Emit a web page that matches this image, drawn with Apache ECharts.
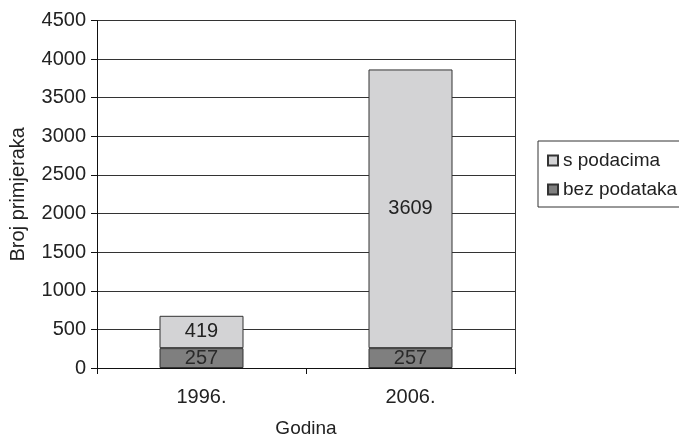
<!DOCTYPE html>
<html>
<head>
<meta charset="utf-8">
<script src="https://cdn.jsdelivr.net/npm/echarts@6/dist/echarts.min.js"></script>
<style>
  html, body { margin: 0; padding: 0; background: #fff; }
  #chart { width: 679px; height: 443px; }
</style>
</head>
<body>
<div id="chart"></div>
<script>
// Broj primjeraka po godinama, s podacima i bez podataka
const years = ['1996.', '2006.'];
const bezPodataka = [257, 257];
const sPodacima = [419, 3609];
const yRange = [0, 4500];
const yStep = 500;

const FONT = '"Liberation Sans", Arial, sans-serif';
const TXT = '#222';
const FS = 20;

const chart = echarts.init(document.getElementById('chart'), null, { renderer: 'canvas' });

chart.setOption({
  animation: false,
  backgroundColor: '#fff',
  textStyle: { fontFamily: FONT, color: TXT },
  grid: { left: 97, right: 164, top: 20.5, bottom: 71, containLabel: false },
  legend: {
    orient: 'vertical',
    left: 538,
    top: 141,
    padding: [10, 40, 8, 9],
    itemGap: 10,
    itemWidth: 10,
    itemHeight: 10,
    icon: 'rect',
    borderColor: '#333',
    borderWidth: 1,
    data: ['s podacima', 'bez podataka'],
    textStyle: { fontFamily: FONT, fontSize: 19, color: TXT, padding: [0, 0, 0, 0] }
  },
  xAxis: {
    type: 'category',
    data: years,
    boundaryGap: true,
    name: 'Godina',
    nameLocation: 'middle',
    nameGap: 51,
    nameTextStyle: { fontFamily: FONT, fontSize: 19, color: TXT },
    axisLine: { lineStyle: { color: '#111', width: 1 } },
    axisTick: { show: true, length: 6, alignWithLabel: false, lineStyle: { color: '#111' } },
    axisLabel: { fontFamily: FONT, fontSize: FS, color: TXT, margin: 19 },
    splitLine: { show: false }
  },
  yAxis: [
    {
      type: 'value',
      min: yRange[0],
      max: yRange[1],
      interval: yStep,
      name: 'Broj primjeraka',
      nameLocation: 'middle',
      nameGap: 69,
      nameRotate: 90,
      nameTextStyle: { fontFamily: FONT, fontSize: FS, color: TXT },
      axisLine: { show: true, lineStyle: { color: '#111', width: 1 } },
      axisTick: { show: true, length: 6, lineStyle: { color: '#111' } },
      axisLabel: { fontFamily: FONT, fontSize: FS, color: TXT, margin: 11, formatter: v => String(v) },
      splitLine: { show: true, lineStyle: { color: '#333', width: 1 } }
    },
    {
      // right-hand frame line of the plot area
      type: 'value',
      position: 'right',
      min: yRange[0],
      max: yRange[1],
      interval: yStep,
      axisLine: { show: true, lineStyle: { color: '#333', width: 1 } },
      axisTick: { show: false },
      axisLabel: { show: false },
      splitLine: { show: false }
    }
  ],
  series: [
    {
      name: 'bez podataka',
      type: 'bar',
      stack: 'ukupno',
      barWidth: 84,
      data: bezPodataka,
      itemStyle: { color: '#7f7f7f', borderColor: '#333', borderWidth: 1 },
      label: {
        show: true,
        position: 'inside',
        fontFamily: FONT,
        fontSize: FS,
        color: '#2a2a2a'
      }
    },
    {
      name: 's podacima',
      type: 'bar',
      stack: 'ukupno',
      barWidth: 84,
      data: sPodacima,
      itemStyle: { color: '#d3d3d5', borderColor: '#333', borderWidth: 1 },
      label: {
        show: true,
        position: 'inside',
        fontFamily: FONT,
        fontSize: FS,
        color: '#222'
      }
    }
  ]
});
</script>
</body>
</html>
